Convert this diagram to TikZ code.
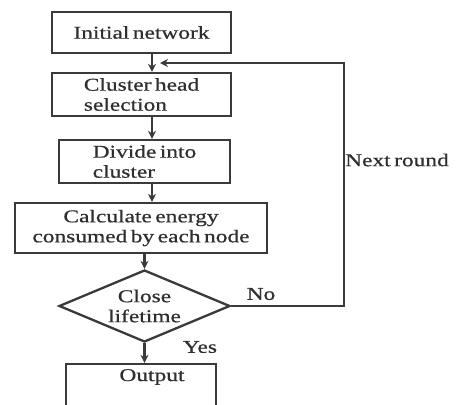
\documentclass[tikz,border=0pt]{standalone}
\usepackage{fontspec}
\setmainfont{Liberation Serif}[FakeStretch=1.3, FakeBold=0.6, WordSpace=0.6]
\usetikzlibrary{shapes.geometric,arrows.meta,calc}
\definecolor{lc}{HTML}{3A3A3A}
\definecolor{tc}{HTML}{2E2E2E}
\begin{document}
\begin{tikzpicture}[x=1pt,y=-1pt,
  txt/.style={font=\fontsize{18}{20}\selectfont, text=tc},
  box/.style={txt, draw=lc, line width=2.3pt, inner sep=0pt, rectangle},
  arr/.style={draw=lc, line width=2.3pt, -{Stealth[length=8pt,width=8pt]}},
  lbl/.style={txt, inner sep=0pt}]
\useasboundingbox (0,0) rectangle (459,405);
\clip (0,0) rectangle (459,405);
\fill[white] (0,0) rectangle (459,405);

\node[box, minimum width=179pt, minimum height=41pt] (b1) at (141.5,32.5) {Initial network};
\node[box, minimum width=179pt, minimum height=43pt, align=left] (b2) at (141.5,94.5) {Cluster head\\selection};
\node[box, minimum width=171pt, minimum height=43pt, align=left] (b3) at (144.5,161.5) {Divide into\\cluster};
\node[box, minimum width=252pt, minimum height=50pt, align=center] (b4) at (141,228) {Calculate energy\\consumed by each node};
\node[box, diamond, shape aspect=2.375, minimum width=171pt, minimum height=72pt, align=center] (dec) at (144.5,306) {Close\\lifetime};
\node[box, minimum width=150pt, minimum height=48pt] (out) at (141,388) {};
\node[lbl] (outtxt) at (152,377) {Output};

\coordinate (xa) at (152,0);
\coordinate (xb) at (144.5,0);
\coordinate (xr) at (344,0);
\coordinate (fb) at (160,63);

\draw[arr] (b1.south -| xa) -- (b2.north -| xa);
\draw[arr] (b2.south -| xa) -- (b3.north -| xa);
\draw[arr] (b3.south -| xa) -- (b4.north -| xa);
\draw[arr] (b4.south -| xb) -- (dec.north);
\draw[arr] (dec.south) -- (out.north -| dec.south);
\draw[arr] (dec.east) -| (xr |- fb) -- (fb);

\node[lbl] (no) at (261,294) {No};
\node[lbl] (yes) at (200,347) {Yes};
\node[lbl, anchor=west] (next) at (345,160) {Next round};
\end{tikzpicture}
\end{document}
